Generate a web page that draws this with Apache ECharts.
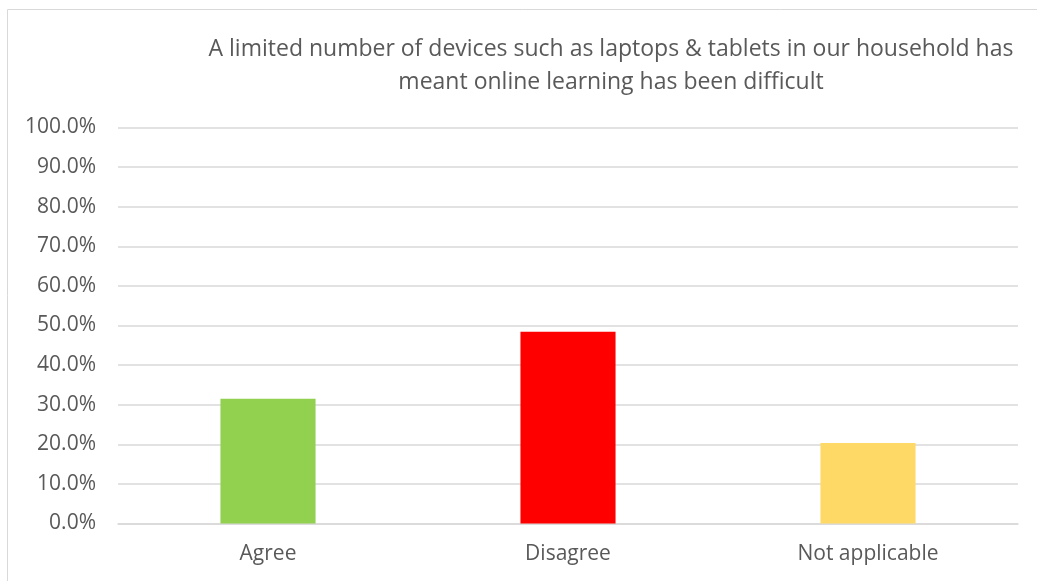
<!DOCTYPE html>
<html><head><meta charset="utf-8">
<script src="https://cdn.jsdelivr.net/npm/echarts@6/dist/echarts.min.js"></script>
<style>html,body{margin:0;padding:0;background:#fff}#c{width:1037px;height:581px}</style>
</head><body><div id="c"></div>
<script>
const categories = ['Agree', 'Disagree', 'Not applicable'];
const values = [31.5, 48.4, 20.3];
const barColors = ['#92d050', '#ff0000', '#ffd966'];
const titleLines = ['A limited number of devices such as laptops & tablets in our household has', 'meant online learning has been difficult'];

const chart = echarts.init(document.getElementById('c'));
chart.setOption({
  animation: false,
  graphic: [
    { type: 'rect', shape: { x: 7.5, y: 9.5, width: 1040, height: 600 }, style: { fill: 'none', stroke: '#d9d9d9', lineWidth: 1 } },
    { type: 'text', x: 611, y: 32.5, style: { text: titleLines.join('\n'), font: '23px "Open Sans", sans-serif', fill: '#595959', align: 'center', verticalAlign: 'top', lineHeight: 33 } }
  ],
  grid: { left: 118, right: 19, top: 127.5, bottom: 57.5, containLabel: false },
  xAxis: {
    type: 'category', data: categories,
    axisLine: { lineStyle: { color: '#d9d9d9', width: 1.5 } },
    axisTick: { show: false },
    axisLabel: { color: '#595959', fontSize: 21, fontFamily: 'Open Sans', margin: 20 }
  },
  yAxis: {
    type: 'value', min: 0, max: 100, interval: 10,
    axisLine: { show: false }, axisTick: { show: false },
    splitLine: { lineStyle: { color: '#d9d9d9', width: 1.5 } },
    axisLabel: { color: '#595959', fontSize: 21, fontFamily: 'Open Sans', margin: 22, formatter: v => v.toFixed(1) + '%' }
  },
  series: [{
    type: 'bar', barWidth: '31.7%',
    data: values.map((v, i) => ({ value: v, itemStyle: { color: barColors[i] } }))
  }]
});
</script></body></html>
